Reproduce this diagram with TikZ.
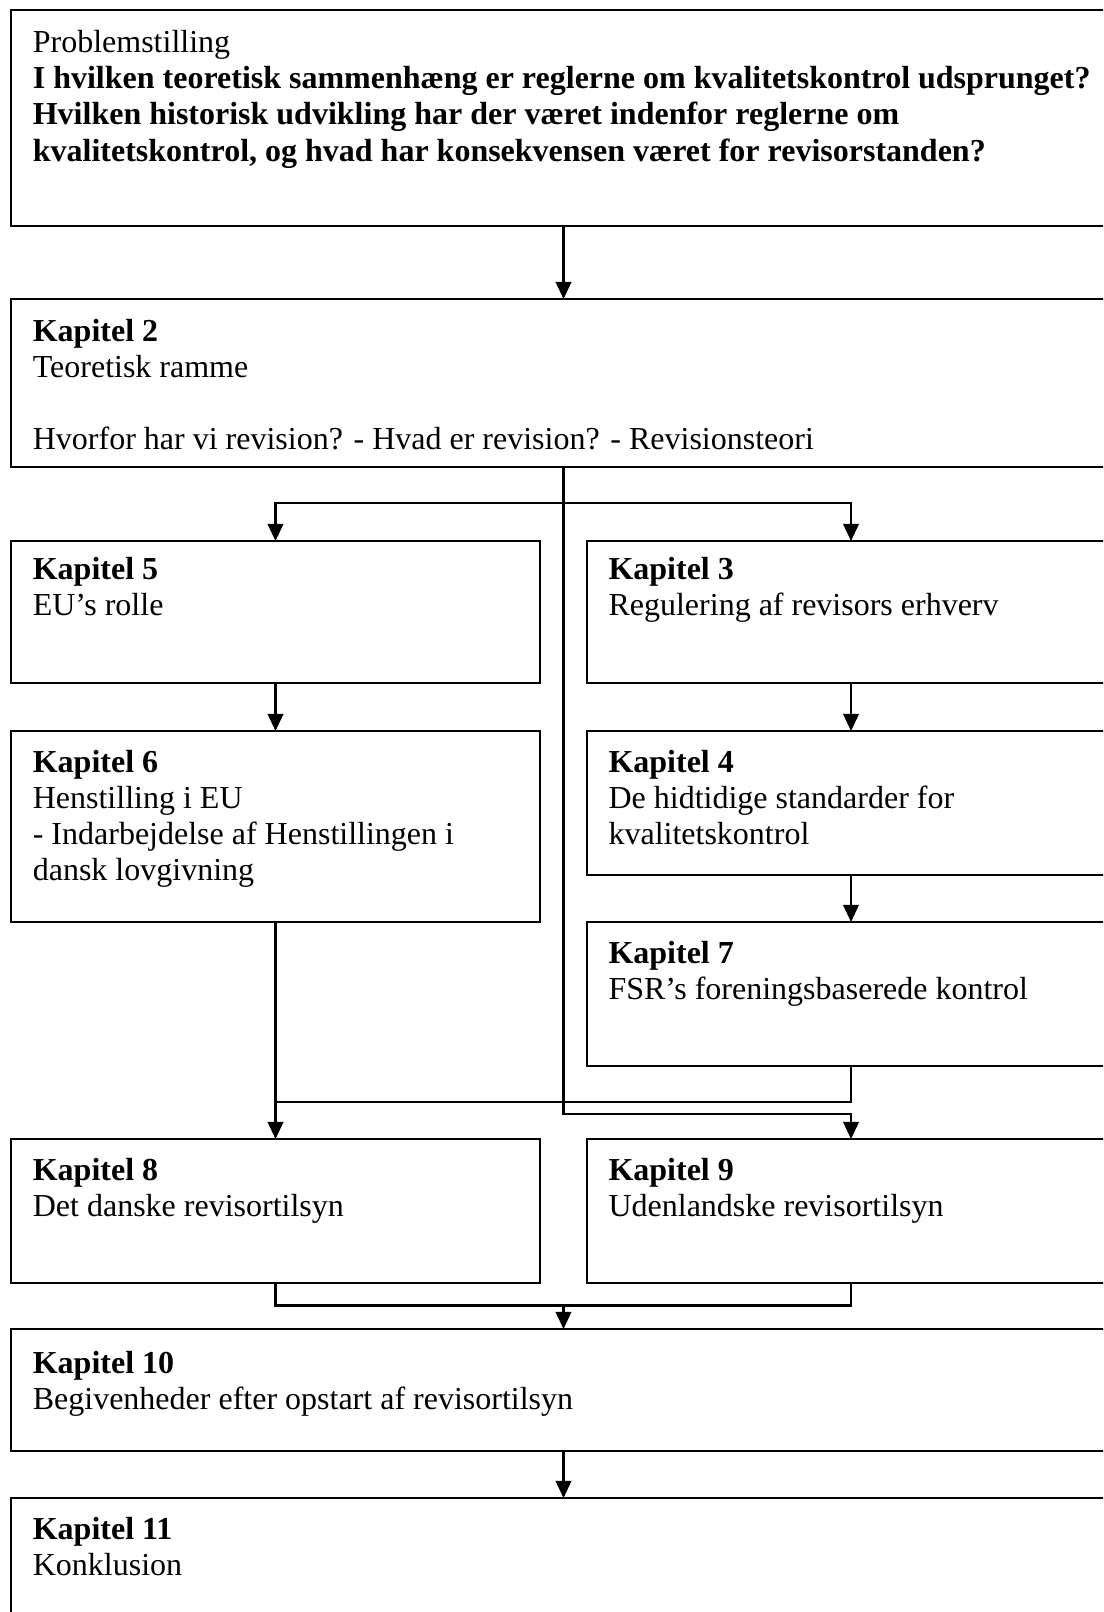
\documentclass[tikz,border=0pt]{standalone}
\usepackage{fontspec}
\setmainfont{Liberation Serif}
\usetikzlibrary{arrows.meta}
\begin{document}
\begin{tikzpicture}[x=0.375pt,y=-0.375pt,
  box/.style={draw, line width=0.7pt, rectangle, inner sep=0pt, outer sep=0pt, anchor=north west},
  wide/.style={minimum width=415.8pt},
  lcol/.style={minimum width=198.3pt},
  rcol/.style={minimum width=199.9pt},
  txt/.style={anchor=base west, inner sep=0pt, font=\fontsize{12pt}{13.6pt}\selectfont},
  link/.style={line width=0.9pt},
  arr/.style={link, -{Triangle[width=5.8pt,length=6.4pt]}}]

\useasboundingbox (0,0) rectangle (1103,1612);
\clip (0,0) rectangle (1103,1612);

% column positions of the connectors
\coordinate (lx) at (275.5,0);
\coordinate (cx) at (563.5,0);
\coordinate (rx) at (851,0);

% boxes
\node[box,wide,minimum height=80.9pt] (p) at (11.3,10.3) {};
\node[box,wide,minimum height=63pt] (k2) at (11.3,299) {};
\node[box,lcol,minimum height=53.25pt] (k5) at (11.3,541) {};
\node[box,rcol,minimum height=53.25pt] (k3) at (587,541) {};
\node[box,lcol,minimum height=71.6pt] (k6) at (11.3,731) {};
\node[box,rcol,minimum height=54pt] (k4) at (587,731) {};
\node[box,rcol,minimum height=54pt] (k7) at (587,922) {};
\node[box,lcol,minimum height=54pt] (k8) at (11.3,1139) {};
\node[box,rcol,minimum height=54pt] (k9) at (587,1139) {};
\node[box,wide,minimum height=45.6pt] (k10) at (11.3,1329) {};
\node[box,wide,minimum height=60pt] (k11) at (11.3,1498) {};

% box texts
\node[txt] (pt) at ([shift={(21,42)}]p.north west) {\parbox[t]{410pt}{\raggedright Problemstilling\\
  \textbf{I hvilken teoretisk sammenhæng er reglerne om kvalitetskontrol udsprunget?}\\
  \textbf{Hvilken historisk udvikling har der været indenfor reglerne om}\\
  \textbf{kvalitetskontrol, og hvad har konsekvensen været for revisorstanden?}}};
\node[txt] (k2t) at ([shift={(21,42)}]k2.north west) {\parbox[t]{400pt}{\raggedright \textbf{Kapitel 2}\\
  Teoretisk ramme\\[13.6pt]
  Hvorfor har vi revision? - Hvad er revision? - Revisionsteori}};
\node[txt] (k5t) at ([shift={(21,38)}]k5.north west) {\parbox[t]{190pt}{\raggedright \textbf{Kapitel 5}\\EU’s rolle}};
\node[txt] (k3t) at ([shift={(21,38)}]k3.north west) {\parbox[t]{190pt}{\raggedright \textbf{Kapitel 3}\\Regulering af revisors erhverv}};
\node[txt] (k6t) at ([shift={(21,41)}]k6.north west) {\parbox[t]{190pt}{\raggedright \textbf{Kapitel 6}\\Henstilling i EU\\- Indarbejdelse af Henstillingen i\\dansk lovgivning}};
\node[txt] (k4t) at ([shift={(21,41)}]k4.north west) {\parbox[t]{190pt}{\raggedright \textbf{Kapitel 4}\\De hidtidige standarder for\\kvalitetskontrol}};
\node[txt] (k7t) at ([shift={(21,41)}]k7.north west) {\parbox[t]{190pt}{\raggedright \textbf{Kapitel 7}\\FSR’s foreningsbaserede kontrol}};
\node[txt] (k8t) at ([shift={(21,41)}]k8.north west) {\parbox[t]{190pt}{\raggedright \textbf{Kapitel 8}\\Det danske revisortilsyn}};
\node[txt] (k9t) at ([shift={(21,41)}]k9.north west) {\parbox[t]{190pt}{\raggedright \textbf{Kapitel 9}\\Udenlandske revisortilsyn}};
\node[txt] (k10t) at ([shift={(21,44)}]k10.north west) {\parbox[t]{400pt}{\raggedright \textbf{Kapitel 10}\\Begivenheder efter opstart af revisortilsyn}};
\node[txt] (k11t) at ([shift={(21,41)}]k11.north west) {\parbox[t]{400pt}{\raggedright \textbf{Kapitel 11}\\Konklusion}};

% connectors
\draw[arr] (p.south -| cx) -- (k2.north -| cx);
\coordinate (split) at (563.5,503);
\draw[arr] (split) -| (k5.north -| lx);
\draw[arr] (split) -| (k3.north -| rx);
\coordinate (j2) at (851,1114);
\draw[arr] (k2.south -| cx) |- (j2) -- (k9.north -| rx);
\draw[arr] (k5.south -| lx) -- (k6.north -| lx);
\draw[arr] (k3.south -| rx) -- (k4.north -| rx);
\draw[arr] (k4.south -| rx) -- (k7.north -| rx);
\draw[arr] (k6.south -| lx) -- (k8.north -| lx);
\coordinate (j1) at (275.5,1102);
\draw[link] (k7.south -| rx) |- (j1);
\coordinate (j3) at (563.5,1305.5);
\draw[link] (k8.south -| lx) |- (j3) -| (k9.south -| rx);
\draw[arr] (j3) -- (k10.north -| cx);
\draw[arr] (k10.south -| cx) -- (k11.north -| cx);
\end{tikzpicture}
\end{document}
